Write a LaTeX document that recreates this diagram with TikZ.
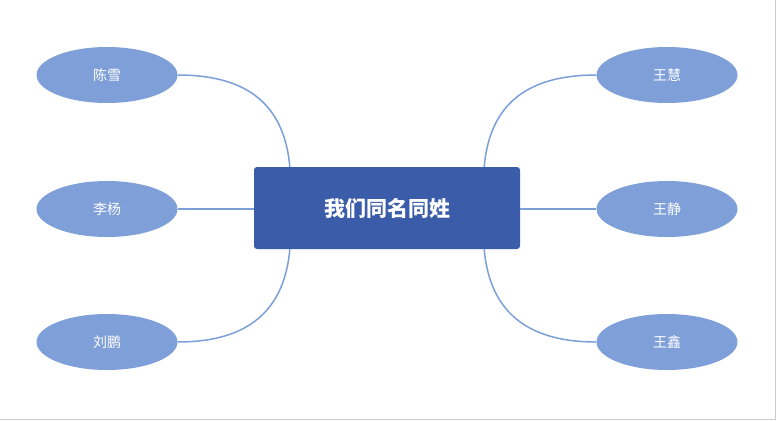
\documentclass[tikz,border=0pt]{standalone}
\usepackage{fontspec}
\newfontfamily\cjk{Noto Sans CJK SC}
\usetikzlibrary{calc,shapes.geometric}
\definecolor{ell}{HTML}{7F9FD8}
\definecolor{boxc}{HTML}{3B5CA8}
\definecolor{ln}{HTML}{7B9FD8}
\begin{document}
\begin{tikzpicture}[x=1pt,y=-1pt,
  leaf/.style={ellipse,fill=ell,draw=none,minimum width=141pt,minimum height=56pt,text=white,font=\cjk\fontsize{14}{16}\selectfont},
  conn/.style={draw=ln,line width=1.5pt}]
\useasboundingbox (0,0) rectangle (776,421);
\draw[gray!40] (0,419.5) -- (775.5,419.5) -- (775.5,0);
\node[fill=boxc,rounded corners=3pt,minimum width=266pt,minimum height=82pt,text=white,font=\cjk\bfseries\fontsize{21}{24}\selectfont] (c) at (387,208) {我们同名同姓};
\node[leaf] (l1) at (107,75) {陈雪};
\node[leaf] (l2) at (107,209) {李杨};
\node[leaf] (l3) at (107,342) {刘鹏};
\node[leaf] (r1) at (667,75) {王慧};
\node[leaf] (r2) at (667,209) {王静};
\node[leaf] (r3) at (667,342) {王鑫};
\path[conn] ($(c.north west)+(36,0)$) .. controls ($(c.north west)+(30,-70)$) and ($(l1.east)+(60,0)$) .. (l1.east);
\path[conn] ($(c.south west)+(36,0)$) .. controls ($(c.south west)+(30,70)$) and ($(l3.east)+(60,0)$) .. (l3.east);
\path[conn] ($(c.north east)+(-36,0)$) .. controls ($(c.north east)+(-30,-70)$) and ($(r1.west)+(-60,0)$) .. (r1.west);
\path[conn] ($(c.south east)+(-36,0)$) .. controls ($(c.south east)+(-30,70)$) and ($(r3.west)+(-60,0)$) .. (r3.west);
\path[conn] (c.west |- l2.east) -- (l2.east);
\path[conn] (c.east |- r2.west) -- (r2.west);
\end{tikzpicture}
\end{document}
